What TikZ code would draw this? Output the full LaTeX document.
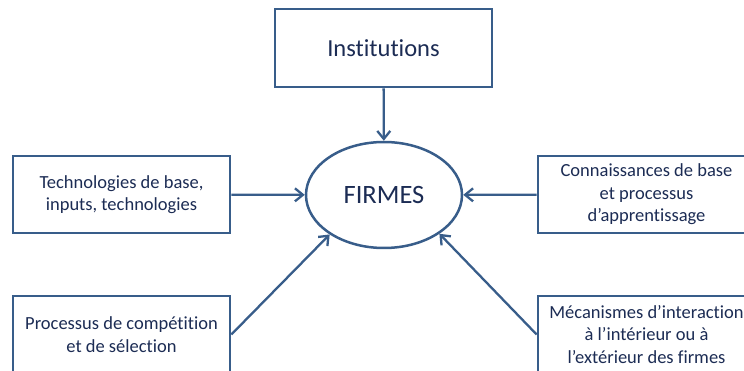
\documentclass[tikz,border=0pt]{standalone}
\usepackage{fontspec}
\setmainfont[Ligatures=NoCommon]{Carlito}
\usetikzlibrary{shapes.geometric, arrows.meta}
\definecolor{boxline}{RGB}{56,93,138}
\definecolor{boxtext}{RGB}{28,44,84}

\begin{document}
\begin{tikzpicture}[x = 1pt, y = -1pt, >={Straight Barb[length=8pt, width=13pt]},
        facteur/.style = {draw = boxline, line width = 2.7pt, fill = white, text = boxtext, align = center,
            minimum width = 217pt, minimum height = 77pt, inner sep = 0pt, font = \fontsize{18.5}{22.5}\selectfont},
        lien/.style = {draw = boxline, line width = 2.3pt, ->}]
    \useasboundingbox (0, 0) rectangle (744, 371);
    \node [facteur, minimum height = 78pt, font = \fontsize{24.5}{28}\selectfont] (inst) at (383.5, 48) {Institutions};
    \node [ellipse, draw = boxline, line width = 2.5pt, text = boxtext, inner sep = 0pt,
        minimum width = 156pt, minimum height = 106pt, font = \fontsize{26.5}{30}\selectfont] (firmes) at (384, 195) {FIRMES};
    \node [facteur] (techno) at (121.5, 194.5) {Technologies de base,\\inputs, technologies};
    \node [facteur] (connais) at (646.5, 194.5) {Connaissances de base\\et processus\\d’apprentissage};
    \node [facteur] (proc) at (121.5, 334.5) {Processus de compétition\\et de sélection};
    \node [facteur] (meca) at (646.5, 334.5) {Mécanismes d’interaction\\à l’intérieur ou à\\l’extérieur des firmes};
    \draw [lien] (inst) -- (firmes);
    \draw [lien] (techno) -- (firmes);
    \draw [lien] (connais) -- (firmes);
    \draw [lien] (proc.east) -- (firmes.-144);
    \draw [lien] (meca.west) -- (firmes.-35);
\end{tikzpicture}
\end{document}
